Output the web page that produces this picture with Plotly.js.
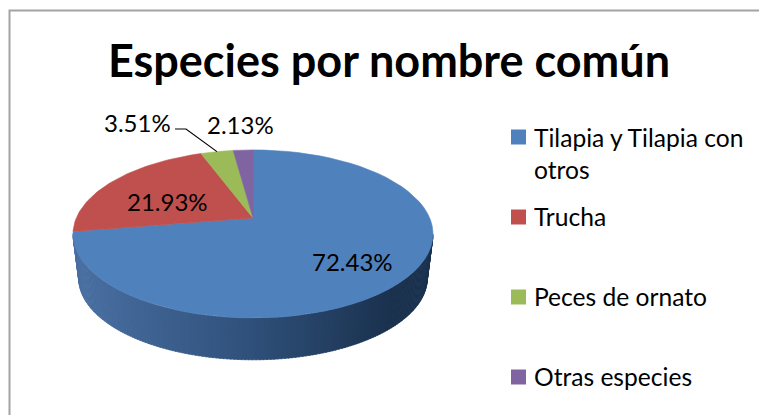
<!DOCTYPE html>
<html>
<head>
<meta charset="utf-8">
<script src="https://cdn.plot.ly/plotly-3.0.1.min.js"></script>
<style>html,body{margin:0;padding:0;background:#fff}#chart{width:759px;height:415px}</style>
</head>
<body>
<div id="chart"></div>
<script>
const titleText = 'Especies por nombre común';
const categories = ['Tilapia y Tilapia con<br>otros', 'Trucha', 'Peces de ornato', 'Otras especies'];
const shares = [72.43, 21.93, 3.51, 2.13];
const colors = ['#4f81bd', '#c0504d', '#9bbb59', '#8064a2'];
const labelPos = [[352, 261], [167, 201], [137, 122], [240, 124]];
const legendY = [137, 217, 297, 377];

// perspective disc: unit circle projected on the page
const K = 0.19, A = 176.7, B = 81, X0 = 253, Y0 = 218;
const FONT = 'Lato, Carlito, sans-serif';
function proj(deg, s, y0) {
  const t = deg * Math.PI / 180, u = Math.sin(t), v = Math.cos(t), w = 1 + K * v;
  return [X0 + s * A * u / w, y0 - s * B * v / w];
}
function hex(a, b, f) {
  const c = a.map((x, i) => Math.round(x + (b[i] - x) * f));
  return `rgb(${c[0]},${c[1]},${c[2]})`;
}

const traces = [];
const polyTrace = (pts, color, line) => ({
  x: pts.map(p => p[0]), y: pts.map(p => p[1]), mode: 'lines', fill: 'toself',
  fillcolor: color, line: line || {width: 0.6, color: color}, hoverinfo: 'skip', showlegend: false
});

// side wall: thin strips from the right rim to the left rim of the visible edge
const S2 = 0.968, Y2 = 263;
const wallStart = 101, wallEnd = 259, STRIPS = 160;
const WL = [74, 112, 163], WM = [47, 80, 122], WR = [27, 50, 79];
for (let i = 0; i < STRIPS; i++) {
  const d0 = wallStart + (wallEnd - wallStart) * i / STRIPS;
  const d1 = wallStart + (wallEnd - wallStart) * (i + 1.3) / STRIPS;
  const a = proj(d0, 1, Y0), b = proj(d1, 1, Y0), c = proj(d1, S2, Y2), e = proj(d0, S2, Y2);
  const f = (a[0] - 73) / 360;
  const col = f < 0.5 ? hex(WL, WM, f * 2) : hex(WM, WR, Math.min(1, (f - 0.5) * 2.6));
  traces.push(polyTrace([a, b, c, e, a], col));
}

// top face slices
let acc = 0;
shares.forEach((v, i) => {
  const start = acc * 3.6, end = (acc + v) * 3.6;
  acc += v;
  const pts = [[X0, Y0]];
  for (let k = 0; k <= 60; k++) pts.push(proj(start + (end - start) * k / 60, 1, Y0));
  pts.push([X0, Y0]);
  traces.push(polyTrace(pts, colors[i]));
});

// leader line for the green slice
const mid = (shares[0] + shares[1] + shares[2] / 2) * 3.6;
const tip = proj(mid, 1, Y0);
traces.push({x: [175, 186, tip[0]], y: [129, 129, tip[1]], mode: 'lines',
  line: {color: '#000', width: 1.2}, hoverinfo: 'skip', showlegend: false});

// legend swatches
traces.push({x: categories.map(() => 518.5), y: legendY, mode: 'markers',
  marker: {symbol: 'square', size: 15, color: colors, line: {width: 0}},
  hoverinfo: 'skip', showlegend: false});

const annotations = [];
shares.forEach((v, i) => annotations.push({
  x: labelPos[i][0], y: labelPos[i][1], xref: 'x', yref: 'y', showarrow: false,
  text: v.toFixed(2) + '%', font: {family: FONT, size: 24, color: '#000'}
}));
categories.forEach((c, i) => annotations.push({
  x: 532, y: legendY[i] - 1, xref: 'x', yref: 'y', xanchor: 'left', yanchor: i === 0 ? 'top' : 'middle',
  yshift: i === 0 ? 15 : 0, align: 'left', showarrow: false, text: c,
  font: {family: FONT, size: 24.6, color: '#000'}
}));

const layout = {
  width: 759, height: 415, margin: {l: 0, r: 0, t: 0, b: 0}, autosize: false,
  paper_bgcolor: '#fff', plot_bgcolor: '#fff', showlegend: false,
  title: {text: '<b>' + titleText + '</b>', x: 389 / 759, xanchor: 'center', y: 0.852, yanchor: 'middle',
    font: {family: FONT, size: 45, color: '#000'}},
  xaxis: {range: [0, 759], visible: false, fixedrange: true},
  yaxis: {range: [415, 0], visible: false, fixedrange: true},
  shapes: [{type: 'rect', xref: 'paper', yref: 'paper', x0: 9.5 / 759, y0: -0.02, x1: 1.02, y1: 1 - 10.5 / 415,
    line: {color: '#a3a3a3', width: 2}, fillcolor: 'rgba(0,0,0,0)'}],
  annotations
};
Plotly.newPlot('chart', traces, layout, {displayModeBar: false, staticPlot: true});
</script>
</body>
</html>
